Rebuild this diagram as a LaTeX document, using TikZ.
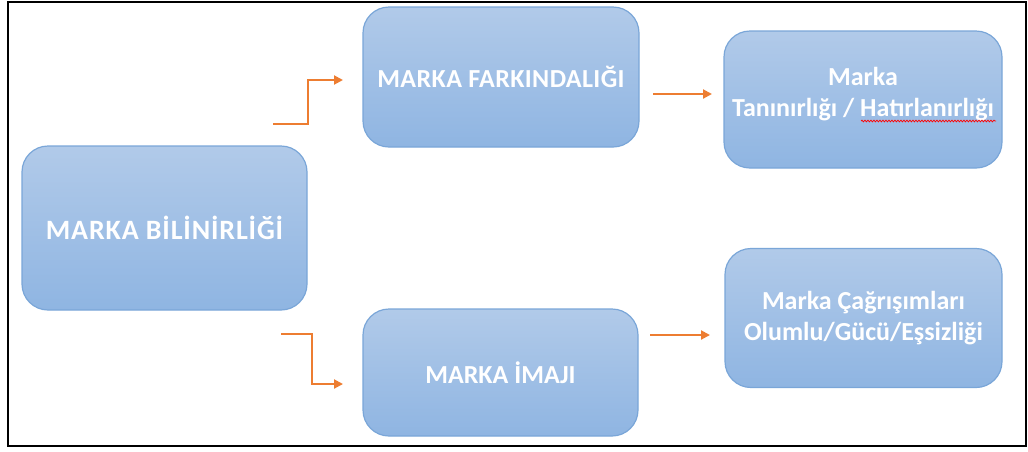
\documentclass[tikz,border=0pt]{standalone}
\usepackage{fontspec}
\setmainfont{Carlito}
\usetikzlibrary{arrows.meta,decorations.pathmorphing}
\definecolor{boxtop}{RGB}{177,202,233}
\definecolor{boxbot}{RGB}{143,181,226}
\definecolor{boxedge}{RGB}{122,166,216}
\definecolor{arrorange}{RGB}{237,125,49}
\tikzset{
  box/.style={draw=boxedge, line width=1.2pt, rounded corners=26pt,
    top color=boxtop, bottom color=boxbot, inner sep=0pt,
    text=white, font=\bfseries\fontsize{26}{31}\selectfont, align=center},
  arr/.style={draw=arrorange, line width=2pt, -{Triangle[length=9pt,width=9pt]}},
  frameline/.style={draw=black, line width=2.5pt}
}
\begin{document}
\begin{tikzpicture}[x=1pt,y=-1pt]
\useasboundingbox (0,0) rectangle (1028,451);
\draw[frameline] (8,2) rectangle (1026,446);
\node[box, minimum width=285pt, minimum height=164pt] (A) at (164.5,228) {\fontsize{28}{33}\selectfont\addfontfeatures{LetterSpace=3}MARKA BİLİNİRLİĞİ};
\node[box, minimum width=276pt, minimum height=140pt] (B) at (501,77) {\addfontfeatures{LetterSpace=1.5}MARKA FARKINDALIĞI};
\node[box, minimum width=278pt, minimum height=137pt] (C) at (863,99.5) {Marka\\Tanınırlığı / Hatırlanırlığı\\[-16pt]\mbox{}};
\node[box, minimum width=277pt, minimum height=139pt] (D) at (863.5,318) {Marka Çağrışımları\\Olumlu/Gücü/Eşsizliği};
\node[box, minimum width=275pt, minimum height=127pt] (E) at (500.5,372.5) {MARKA İMAJI};
% connectors
\coordinate (s1) at (273,124);
\coordinate (k1) at (308,124);
\coordinate (t1) at (343,80);
\draw[arr] (s1) -- (k1) |- (t1);
\coordinate (s2) at (281,334);
\coordinate (k2) at (312,334);
\coordinate (t2) at (343,384);
\draw[arr] (s2) -- (k2) |- (t2);
\coordinate (s3) at (653,94);
\coordinate (t3) at (712,94);
\draw[arr] (s3) -- (t3);
\coordinate (s4) at (650,335);
\coordinate (t4) at (710,335);
\draw[arr] (s4) -- (t4);
% spell-check squiggle
\coordinate (q1) at (861,121);
\coordinate (q2) at (996,121);
\draw[red, line width=0.7pt, decorate, decoration={snake, amplitude=0.9pt, segment length=3pt}] (q1) -- (q2);
\end{tikzpicture}
\end{document}
